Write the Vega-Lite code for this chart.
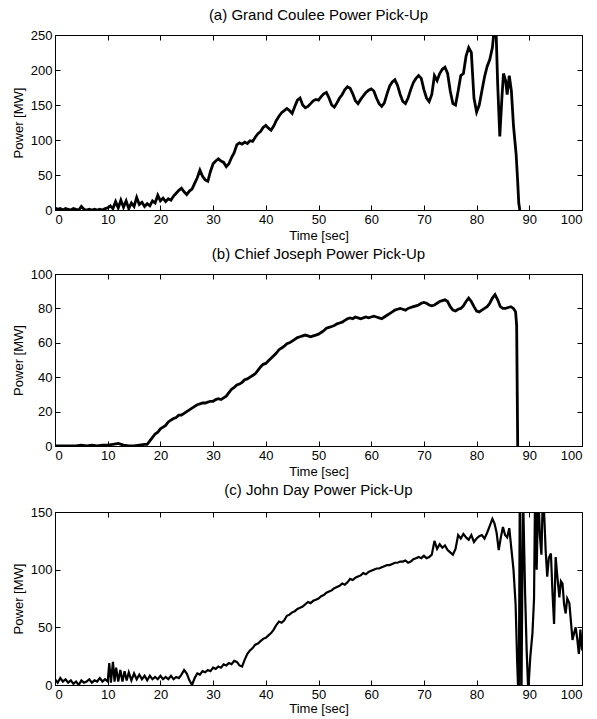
{
"$schema": "https://vega.github.io/schema/vega-lite/v6.json",
"background": "white",
"padding": {"left": 11, "top": 7, "right": 12, "bottom": 0},
"spacing": 3,
"datasets": {
"a": [
{"t":0,"p":3},{"t":0.5,"p":1},{"t":1,"p":2},{"t":1.5,"p":0},{"t":2,"p":2},{"t":2.5,"p":1},{"t":3,"p":0},{"t":3.5,"p":2},{"t":4,"p":1},{"t":4.5,"p":0},{"t":5,"p":5},{"t":5.5,"p":1},{"t":6,"p":0},{"t":6.5,"p":1},{"t":7,"p":0},{"t":7.5,"p":1},{"t":8,"p":0},{"t":8.5,"p":1},{"t":9,"p":0},{"t":9.5,"p":2},{"t":10,"p":3},{"t":10.5,"p":6},{"t":11,"p":2},{"t":11.5,"p":12},{"t":12,"p":3},{"t":12.5,"p":14},{"t":13,"p":4},{"t":13.5,"p":13},{"t":14,"p":2},{"t":14.5,"p":10},{"t":15,"p":5},{"t":15.5,"p":18},{"t":16,"p":8},{"t":16.5,"p":11},{"t":17,"p":5},{"t":17.5,"p":9},{"t":18,"p":6},{"t":18.5,"p":13},{"t":19,"p":10},{"t":19.5,"p":21},{"t":20,"p":13},{"t":20.5,"p":17},{"t":21,"p":12},{"t":21.5,"p":16},{"t":22,"p":14},{"t":22.5,"p":20},{"t":23,"p":24},{"t":23.5,"p":28},{"t":24,"p":31},{"t":24.5,"p":26},{"t":25,"p":22},{"t":25.5,"p":27},{"t":26,"p":30},{"t":26.5,"p":38},{"t":27,"p":46},{"t":27.5,"p":57},{"t":28,"p":48},{"t":28.5,"p":43},{"t":29,"p":41},{"t":29.5,"p":55},{"t":30,"p":66},{"t":30.5,"p":70},{"t":31,"p":73},{"t":31.5,"p":70},{"t":32,"p":68},{"t":32.5,"p":62},{"t":33,"p":66},{"t":33.5,"p":75},{"t":34,"p":82},{"t":34.5,"p":93},{"t":35,"p":96},{"t":35.5,"p":94},{"t":36,"p":97},{"t":36.5,"p":95},{"t":37,"p":99},{"t":37.5,"p":98},{"t":38,"p":104},{"t":38.5,"p":109},{"t":39,"p":112},{"t":39.5,"p":118},{"t":40,"p":121},{"t":40.5,"p":117},{"t":41,"p":114},{"t":41.5,"p":120},{"t":42,"p":128},{"t":42.5,"p":134},{"t":43,"p":139},{"t":43.5,"p":142},{"t":44,"p":145},{"t":44.5,"p":142},{"t":45,"p":138},{"t":45.5,"p":148},{"t":46,"p":157},{"t":46.5,"p":160},{"t":47,"p":150},{"t":47.5,"p":146},{"t":48,"p":148},{"t":48.5,"p":152},{"t":49,"p":156},{"t":49.5,"p":158},{"t":50,"p":157},{"t":50.5,"p":162},{"t":51,"p":166},{"t":51.5,"p":168},{"t":52,"p":160},{"t":52.5,"p":150},{"t":53,"p":147},{"t":53.5,"p":153},{"t":54,"p":160},{"t":54.5,"p":165},{"t":55,"p":172},{"t":55.5,"p":176},{"t":56,"p":174},{"t":56.5,"p":166},{"t":57,"p":156},{"t":57.5,"p":152},{"t":58,"p":158},{"t":58.5,"p":163},{"t":59,"p":168},{"t":59.5,"p":171},{"t":60,"p":173},{"t":60.5,"p":170},{"t":61,"p":160},{"t":61.5,"p":152},{"t":62,"p":148},{"t":62.5,"p":153},{"t":63,"p":166},{"t":63.5,"p":177},{"t":64,"p":183},{"t":64.5,"p":186},{"t":65,"p":178},{"t":65.5,"p":165},{"t":66,"p":155},{"t":66.5,"p":152},{"t":67,"p":160},{"t":67.5,"p":172},{"t":68,"p":182},{"t":68.5,"p":188},{"t":69,"p":192},{"t":69.5,"p":188},{"t":70,"p":172},{"t":70.5,"p":160},{"t":71,"p":155},{"t":71.5,"p":165},{"t":72,"p":192},{"t":72.5,"p":185},{"t":73,"p":195},{"t":73.5,"p":201},{"t":74,"p":204},{"t":74.5,"p":195},{"t":75,"p":170},{"t":75.5,"p":152},{"t":76,"p":150},{"t":76.5,"p":170},{"t":77,"p":192},{"t":77.5,"p":195},{"t":78,"p":220},{"t":78.5,"p":232},{"t":79,"p":225},{"t":79.5,"p":160},{"t":80,"p":140},{"t":80.5,"p":150},{"t":81,"p":170},{"t":81.5,"p":190},{"t":82,"p":205},{"t":82.5,"p":215},{"t":83,"p":232},{"t":83.3,"p":255},{"t":83.7,"p":255},{"t":84,"p":180},{"t":84.4,"p":105},{"t":84.8,"p":160},{"t":85.1,"p":195},{"t":85.5,"p":185},{"t":85.8,"p":165},{"t":86.2,"p":192},{"t":86.6,"p":170},{"t":87,"p":120},{"t":87.5,"p":80},{"t":87.8,"p":40},{"t":88,"p":10},{"t":88.2,"p":0}
],
"b": [
{"t":0,"p":0},{"t":1,"p":0},{"t":2,"p":0},{"t":3,"p":0},{"t":4,"p":0},{"t":5,"p":0.5},{"t":6,"p":0},{"t":7,"p":0.5},{"t":8,"p":0},{"t":9,"p":0.5},{"t":10,"p":0.5},{"t":11,"p":1},{"t":12,"p":1.5},{"t":13,"p":0.5},{"t":14,"p":0},{"t":15,"p":0},{"t":16,"p":0.5},{"t":17,"p":1},{"t":17.5,"p":1},{"t":18,"p":3},{"t":18.5,"p":5},{"t":19,"p":7},{"t":19.5,"p":8},{"t":20,"p":10},{"t":20.5,"p":11},{"t":21,"p":12},{"t":21.5,"p":14},{"t":22,"p":15},{"t":22.5,"p":16},{"t":23,"p":16.5},{"t":23.5,"p":18},{"t":24,"p":18},{"t":24.5,"p":19},{"t":25,"p":20},{"t":25.5,"p":21},{"t":26,"p":22},{"t":26.5,"p":23},{"t":27,"p":24},{"t":27.5,"p":24.5},{"t":28,"p":25},{"t":28.5,"p":25},{"t":29,"p":25.5},{"t":29.5,"p":26},{"t":30,"p":26},{"t":30.5,"p":27},{"t":31,"p":27.5},{"t":31.5,"p":27},{"t":32,"p":28},{"t":32.5,"p":29},{"t":33,"p":31},{"t":33.5,"p":33},{"t":34,"p":34},{"t":34.5,"p":35.5},{"t":35,"p":36},{"t":35.5,"p":37},{"t":36,"p":38.5},{"t":36.5,"p":39},{"t":37,"p":40},{"t":37.5,"p":41},{"t":38,"p":42},{"t":38.5,"p":44},{"t":39,"p":46},{"t":39.5,"p":47.5},{"t":40,"p":48},{"t":40.5,"p":49.5},{"t":41,"p":51},{"t":41.5,"p":52.5},{"t":42,"p":54},{"t":42.5,"p":56},{"t":43,"p":57},{"t":43.5,"p":58},{"t":44,"p":59.5},{"t":44.5,"p":60},{"t":45,"p":61},{"t":45.5,"p":62},{"t":46,"p":63},{"t":46.5,"p":63.5},{"t":47,"p":64},{"t":47.5,"p":64.5},{"t":48,"p":64},{"t":48.5,"p":63.5},{"t":49,"p":64},{"t":49.5,"p":64.5},{"t":50,"p":65},{"t":50.5,"p":66},{"t":51,"p":67},{"t":51.5,"p":68.5},{"t":52,"p":69},{"t":52.5,"p":69.5},{"t":53,"p":70},{"t":53.5,"p":71},{"t":54,"p":71.5},{"t":54.5,"p":72},{"t":55,"p":73},{"t":55.5,"p":74},{"t":56,"p":74.5},{"t":56.5,"p":74},{"t":57,"p":75},{"t":57.5,"p":74.5},{"t":58,"p":74},{"t":58.5,"p":74.5},{"t":59,"p":75},{"t":59.5,"p":74.5},{"t":60,"p":75},{"t":60.5,"p":75.5},{"t":61,"p":75},{"t":61.5,"p":74.5},{"t":62,"p":74},{"t":62.5,"p":75},{"t":63,"p":76},{"t":63.5,"p":77},{"t":64,"p":78},{"t":64.5,"p":79},{"t":65,"p":79.5},{"t":65.5,"p":80},{"t":66,"p":79.5},{"t":66.5,"p":79},{"t":67,"p":80},{"t":67.5,"p":80.5},{"t":68,"p":81},{"t":68.5,"p":81.5},{"t":69,"p":82},{"t":69.5,"p":83},{"t":70,"p":83.5},{"t":70.5,"p":83},{"t":71,"p":82},{"t":71.5,"p":81.5},{"t":72,"p":82},{"t":72.5,"p":83},{"t":73,"p":84},{"t":73.5,"p":84.5},{"t":74,"p":85},{"t":74.5,"p":84},{"t":75,"p":81},{"t":75.5,"p":79},{"t":76,"p":78.5},{"t":76.5,"p":79.5},{"t":77,"p":80},{"t":77.5,"p":81.5},{"t":78,"p":84},{"t":78.5,"p":86},{"t":79,"p":84},{"t":79.5,"p":81},{"t":80,"p":78.5},{"t":80.5,"p":78},{"t":81,"p":79},{"t":81.5,"p":80},{"t":82,"p":81},{"t":82.5,"p":83},{"t":83,"p":86},{"t":83.5,"p":88},{"t":84,"p":85},{"t":84.5,"p":81},{"t":85,"p":80},{"t":85.5,"p":80},{"t":86,"p":80.5},{"t":86.5,"p":81},{"t":87,"p":80},{"t":87.4,"p":78},{"t":87.6,"p":70},{"t":87.8,"p":0}
],
"c": [
{"t":0,"p":5},{"t":0.5,"p":2},{"t":1,"p":6},{"t":1.5,"p":3},{"t":2,"p":5},{"t":2.5,"p":2},{"t":3,"p":4},{"t":3.5,"p":1},{"t":4,"p":3},{"t":4.5,"p":0},{"t":5,"p":4},{"t":5.5,"p":2},{"t":6,"p":3},{"t":6.5,"p":5},{"t":7,"p":2},{"t":7.5,"p":4},{"t":8,"p":3},{"t":8.5,"p":6},{"t":9,"p":3},{"t":9.5,"p":5},{"t":10,"p":3},{"t":10.3,"p":19},{"t":10.6,"p":2},{"t":11,"p":20},{"t":11.3,"p":3},{"t":11.6,"p":15},{"t":12,"p":3},{"t":12.4,"p":13},{"t":12.8,"p":3},{"t":13.2,"p":12},{"t":13.6,"p":4},{"t":14,"p":11},{"t":14.5,"p":4},{"t":15,"p":10},{"t":15.5,"p":5},{"t":16,"p":9},{"t":16.5,"p":5},{"t":17,"p":8},{"t":17.5,"p":4},{"t":18,"p":8},{"t":18.5,"p":5},{"t":19,"p":7},{"t":19.5,"p":5},{"t":20,"p":8},{"t":20.5,"p":5},{"t":21,"p":7},{"t":21.5,"p":5},{"t":22,"p":8},{"t":22.5,"p":5},{"t":23,"p":7},{"t":23.5,"p":6},{"t":24,"p":9},{"t":24.5,"p":13},{"t":25,"p":10},{"t":25.5,"p":4},{"t":26,"p":0},{"t":26.5,"p":6},{"t":27,"p":10},{"t":27.5,"p":9},{"t":28,"p":12},{"t":28.5,"p":11},{"t":29,"p":13},{"t":29.5,"p":12},{"t":30,"p":15},{"t":30.5,"p":14},{"t":31,"p":16},{"t":31.5,"p":15},{"t":32,"p":18},{"t":32.5,"p":17},{"t":33,"p":19},{"t":33.5,"p":18},{"t":34,"p":21},{"t":34.5,"p":20},{"t":35,"p":17},{"t":35.5,"p":16},{"t":36,"p":22},{"t":36.5,"p":27},{"t":37,"p":30},{"t":37.5,"p":32},{"t":38,"p":35},{"t":38.5,"p":36},{"t":39,"p":38},{"t":39.5,"p":40},{"t":40,"p":41},{"t":40.5,"p":43},{"t":41,"p":45},{"t":41.5,"p":48},{"t":42,"p":52},{"t":42.5,"p":55},{"t":43,"p":54},{"t":43.5,"p":56},{"t":44,"p":60},{"t":44.5,"p":61},{"t":45,"p":63},{"t":45.5,"p":64},{"t":46,"p":66},{"t":46.5,"p":67},{"t":47,"p":68},{"t":47.5,"p":70},{"t":48,"p":72},{"t":48.5,"p":71},{"t":49,"p":73},{"t":49.5,"p":74},{"t":50,"p":75},{"t":50.5,"p":77},{"t":51,"p":78},{"t":51.5,"p":80},{"t":52,"p":81},{"t":52.5,"p":82},{"t":53,"p":84},{"t":53.5,"p":85},{"t":54,"p":86},{"t":54.5,"p":88},{"t":55,"p":87},{"t":55.5,"p":89},{"t":56,"p":92},{"t":56.5,"p":91},{"t":57,"p":93},{"t":57.5,"p":94},{"t":58,"p":95},{"t":58.5,"p":97},{"t":59,"p":96},{"t":59.5,"p":98},{"t":60,"p":99},{"t":60.5,"p":100},{"t":61,"p":101},{"t":61.5,"p":101},{"t":62,"p":102},{"t":62.5,"p":103},{"t":63,"p":104},{"t":63.5,"p":104},{"t":64,"p":105},{"t":64.5,"p":106},{"t":65,"p":106},{"t":65.5,"p":107},{"t":66,"p":107},{"t":66.5,"p":108},{"t":67,"p":106},{"t":67.5,"p":107},{"t":68,"p":109},{"t":68.5,"p":110},{"t":69,"p":111},{"t":69.5,"p":110},{"t":70,"p":112},{"t":70.5,"p":110},{"t":71,"p":111},{"t":71.5,"p":113},{"t":72,"p":125},{"t":72.5,"p":118},{"t":73,"p":122},{"t":73.5,"p":119},{"t":74,"p":121},{"t":74.5,"p":117},{"t":75,"p":115},{"t":75.5,"p":113},{"t":76,"p":118},{"t":76.5,"p":130},{"t":77,"p":127},{"t":77.5,"p":131},{"t":78,"p":128},{"t":78.5,"p":126},{"t":79,"p":130},{"t":79.5,"p":124},{"t":80,"p":127},{"t":80.5,"p":129},{"t":81,"p":130},{"t":81.5,"p":127},{"t":82,"p":132},{"t":82.5,"p":138},{"t":83,"p":144},{"t":83.4,"p":140},{"t":83.8,"p":132},{"t":84.2,"p":117},{"t":84.6,"p":128},{"t":85,"p":137},{"t":85.4,"p":130},{"t":85.8,"p":128},{"t":86.2,"p":136},{"t":86.6,"p":118},{"t":87,"p":100},{"t":87.4,"p":70},{"t":87.7,"p":20},{"t":88,"p":-20},{"t":88.2,"p":170},{"t":88.5,"p":-20},{"t":88.8,"p":170},{"t":89.2,"p":80},{"t":89.5,"p":30},{"t":89.8,"p":-5},{"t":90.2,"p":25},{"t":90.6,"p":45},{"t":90.9,"p":75},{"t":91.1,"p":170},{"t":91.4,"p":100},{"t":91.7,"p":170},{"t":92,"p":130},{"t":92.3,"p":113},{"t":92.6,"p":170},{"t":92.9,"p":140},{"t":93.1,"p":117},{"t":93.4,"p":94},{"t":93.7,"p":110},{"t":94.1,"p":114},{"t":94.4,"p":80},{"t":94.7,"p":53},{"t":95,"p":111},{"t":95.3,"p":95},{"t":95.7,"p":76},{"t":96,"p":90},{"t":96.3,"p":88},{"t":96.6,"p":70},{"t":96.9,"p":62},{"t":97.2,"p":75},{"t":97.6,"p":71},{"t":97.9,"p":55},{"t":98.2,"p":39},{"t":98.5,"p":45},{"t":98.8,"p":50},{"t":99.1,"p":40},{"t":99.4,"p":27},{"t":99.7,"p":48},{"t":100,"p":30}
]
},
"vconcat": [
{
"width": 527, "height": 175,
"title": "(a) Grand Coulee Power Pick-Up",
"data": {"name": "a"},
"layer": [
{"mark": {"type": "line", "color": "black", "strokeWidth": 2.8, "clip": true},
 "encoding": {
  "x": {"field": "t", "type": "quantitative", "scale": {"domain": [0, 100], "nice": false}, "axis": {"values": [0,10,20,30,40,50,60,70,80,90,100], "title": "Time [sec]"}},
  "y": {"field": "p", "type": "quantitative", "scale": {"domain": [0, 250], "nice": false}, "axis": {"values": [0,50,100,150,200,250], "title": "Power [MW]"}}}},
{"mark": {"type": "line", "opacity": 0, "clip": true},
 "encoding": {
  "x": {"field": "t", "type": "quantitative", "scale": {"domain": [0, 100], "nice": false}, "axis": {"orient": "top", "values": [0,10,20,30,40,50,60,70,80,90,100], "labels": false, "title": null, "domain": false}},
  "y": {"field": "p", "type": "quantitative", "scale": {"domain": [0, 250], "nice": false}, "axis": {"orient": "right", "values": [0,50,100,150,200,250], "labels": false, "title": null, "domain": false}}}}
],
"resolve": {"axis": {"x": "independent", "y": "independent"}}
},
{
"width": 527, "height": 172,
"title": "(b) Chief Joseph Power Pick-Up",
"data": {"name": "b"},
"layer": [
{"mark": {"type": "line", "color": "black", "strokeWidth": 2.8, "clip": true},
 "encoding": {
  "x": {"field": "t", "type": "quantitative", "scale": {"domain": [0, 100], "nice": false}, "axis": {"values": [0,10,20,30,40,50,60,70,80,90,100], "title": "Time [sec]"}},
  "y": {"field": "p", "type": "quantitative", "scale": {"domain": [0, 100], "nice": false}, "axis": {"values": [0,20,40,60,80,100], "title": "Power [MW]"}}}},
{"mark": {"type": "line", "opacity": 0, "clip": true},
 "encoding": {
  "x": {"field": "t", "type": "quantitative", "scale": {"domain": [0, 100], "nice": false}, "axis": {"orient": "top", "values": [0,10,20,30,40,50,60,70,80,90,100], "labels": false, "title": null, "domain": false}},
  "y": {"field": "p", "type": "quantitative", "scale": {"domain": [0, 100], "nice": false}, "axis": {"orient": "right", "values": [0,20,40,60,80,100], "labels": false, "title": null, "domain": false}}}}
],
"resolve": {"axis": {"x": "independent", "y": "independent"}}
},
{
"width": 527, "height": 173,
"title": {"text": "(c) John Day Power Pick-Up", "offset": 8},
"data": {"name": "c"},
"layer": [
{"mark": {"type": "line", "color": "black", "strokeWidth": 2.2, "clip": true},
 "encoding": {
  "x": {"field": "t", "type": "quantitative", "scale": {"domain": [0, 100], "nice": false}, "axis": {"values": [0,10,20,30,40,50,60,70,80,90,100], "title": "Time [sec]", "titlePadding": 1}},
  "y": {"field": "p", "type": "quantitative", "scale": {"domain": [0, 150], "nice": false}, "axis": {"values": [0,50,100,150], "title": "Power [MW]"}}}},
{"mark": {"type": "line", "opacity": 0, "clip": true},
 "encoding": {
  "x": {"field": "t", "type": "quantitative", "scale": {"domain": [0, 100], "nice": false}, "axis": {"orient": "top", "values": [0,10,20,30,40,50,60,70,80,90,100], "labels": false, "title": null, "domain": false}},
  "y": {"field": "p", "type": "quantitative", "scale": {"domain": [0, 150], "nice": false}, "axis": {"orient": "right", "values": [0,50,100,150], "labels": false, "title": null, "domain": false}}}}
],
"resolve": {"axis": {"x": "independent", "y": "independent"}}
}
],
"config": {
 "font": "Liberation Sans",
 "view": {"stroke": "black", "strokeWidth": 1},
 "axis": {"grid": false, "domainColor": "black", "domainWidth": 1, "tickColor": "black", "tickSize": -5, "tickWidth": 1, "labelColor": "black", "labelFontSize": 13, "labelPadding": 8, "titleColor": "black", "titleFontSize": 13, "titleFontWeight": "normal", "titlePadding": 3, "labelFont": "Liberation Sans", "titleFont": "Liberation Sans"},
 "axisY": {"titlePadding": 5},
 "title": {"fontSize": 15, "fontWeight": "normal", "color": "black", "offset": 6, "font": "Liberation Sans"}
}
}
